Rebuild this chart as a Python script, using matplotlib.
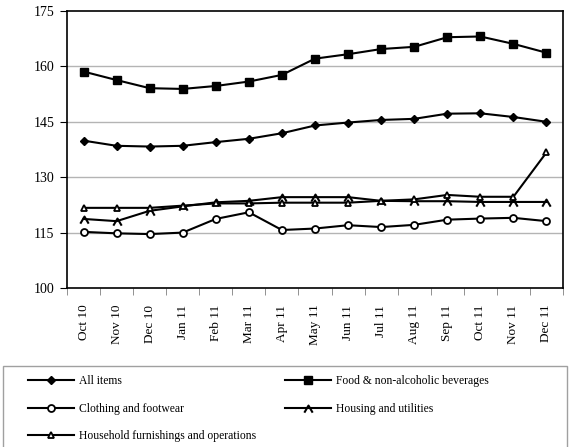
import matplotlib
matplotlib.use("Agg")
import matplotlib.pyplot as plt
from matplotlib.path import Path
from matplotlib.patches import Rectangle

plt.rcParams['font.family'] = ['Liberation Serif', 'DejaVu Serif']

months = ["Oct 10", "Nov 10", "Dec 10", "Jan 11", "Feb 11", "Mar 11", "Apr 11",
          "May 11", "Jun 11", "Jul 11", "Aug 11", "Sep 11", "Oct 11", "Nov 11", "Dec 11"]

all_items = [139.9, 138.5, 138.3, 138.5, 139.5, 140.4, 141.9, 144.0, 144.8,
             145.5, 145.8, 147.2, 147.3, 146.3, 145.0]
food = [158.6, 156.3, 154.1, 153.9, 154.7, 155.9, 157.7, 162.1, 163.3,
        164.7, 165.3, 167.9, 168.1, 166.1, 163.7]
clothing = [115.2, 114.8, 114.6, 115.0, 118.7, 120.5, 115.7, 116.1, 117.0,
            116.5, 117.1, 118.5, 118.8, 119.0, 118.1]
housing = [118.7, 118.1, 120.9, 122.1, 123.2, 123.6, 124.6, 124.6, 124.6,
           123.6, 123.5, 123.5, 123.3, 123.3, 123.3]
furnishings = [121.7, 121.7, 121.7, 122.3, 122.9, 122.9, 123.1, 123.1, 123.1,
               123.6, 124.0, 125.2, 124.7, 124.7, 136.7]

# chevron marker for housing
chevron = Path([(-1, -1), (0, 0.7), (1, -1)], [Path.MOVETO, Path.LINETO, Path.LINETO])

fig = plt.figure(figsize=(5.7, 4.47), dpi=100)
ax = fig.add_axes([67/570, 1-288/447, 496/570, 277/447])

x = list(range(len(months)))
lw = 1.5
h1, = ax.plot(x, all_items, color='black', lw=lw, marker='D', ms=4, mfc='black', mec='black', label='All items')
h2, = ax.plot(x, food, color='black', lw=lw, marker='s', ms=6, mfc='black', mec='black', label='Food & non-alcoholic beverages')
h3, = ax.plot(x, clothing, color='black', lw=lw, marker='o', ms=5, mfc='white', mec='black', mew=1.3, label='Clothing and footwear')
h4, = ax.plot(x, housing, color='black', lw=lw, marker=chevron, ms=6, mfc='none', mec='black', mew=1.5, label='Housing and utilities')
h5, = ax.plot(x, furnishings, color='black', lw=lw, marker='^', ms=5, mfc='white', mec='black', mew=1.3, label='Household furnishings and operations')

ax.set_xlim(-0.5, len(months) - 0.5)
ax.set_ylim(100, 175)
ax.set_yticks(range(100, 176, 15))
for v in range(115, 175, 15):
    ax.axhline(v, color='#b4b4b4', lw=1, zorder=0)

ax.set_xticks(x)
ax.set_xticklabels(months, rotation=90, fontsize=9.5)
ax.tick_params(axis='x', which='major', length=0, pad=12)
ax.set_xticks([i - 0.5 for i in range(len(months) + 1)], minor=True)
ax.tick_params(axis='x', which='minor', length=5, direction='out', color='#808080')
ax.tick_params(axis='y', length=5, direction='out', labelsize=10, pad=4)

for s in ax.spines.values():
    s.set_color('black')
    s.set_linewidth(1.2)

# legend box
fig.patches.append(Rectangle((3/570, -0.1), 564/570, 1-366/447+0.1, transform=fig.transFigure,
                             fill=False, edgecolor='#a0a0a0', lw=1))

kw = dict(frameon=False, fontsize=8.4, handlelength=3.9, handletextpad=0.45, labelspacing=1.35,
          loc='upper left', borderaxespad=0, borderpad=0)
leg1 = fig.legend([h1, h3, h5], [h1.get_label(), h3.get_label(), h5.get_label()],
                  bbox_to_anchor=(28/570, 1-375/447), **kw)
leg2 = fig.legend([h2, h4], [h2.get_label(), h4.get_label()],
                  bbox_to_anchor=(285/570, 1-375/447), **kw)

fig.savefig('out.png', dpi=100)
